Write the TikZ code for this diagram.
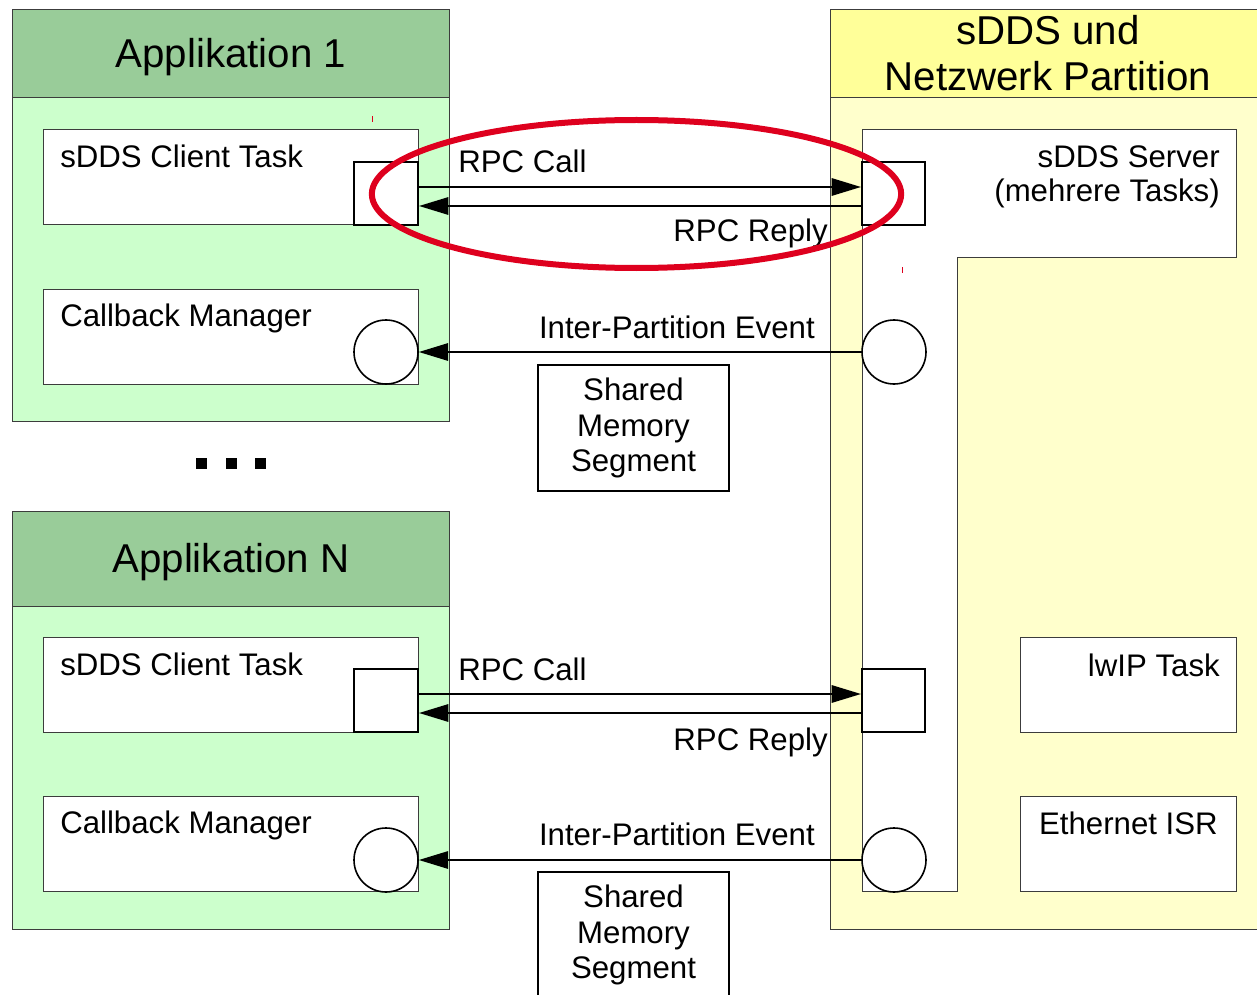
\documentclass[tikz,border=0pt]{standalone}
\usepackage{fontspec}
\setmainfont{Liberation Sans}
\usetikzlibrary{arrows.meta,fit}
\definecolor{appHead}{RGB}{153,204,153}
\definecolor{appBody}{RGB}{204,255,204}
\definecolor{srvHead}{RGB}{255,255,153}
\definecolor{srvBody}{RGB}{255,255,204}
\definecolor{frame}{RGB}{60,60,60}
\definecolor{hilite}{RGB}{222,0,30}
\tikzset{
  panel/.style={draw=frame,line width=0.75pt},
  taskbox/.style={draw=frame,fill=white,line width=0.75pt,inner sep=0pt},
  port/.style={draw=black,fill=white,line width=1.5pt,inner sep=0pt},
  evport/.style={circle,draw=black,fill=white,line width=1.2pt,inner sep=0pt,minimum size=48pt},
  smbox/.style={draw=black,fill=white,line width=1.2pt,align=center,inner sep=0pt,
    minimum width=143.25pt,minimum height=94.5pt,font=\bodyfont,execute at begin node=\setlength{\baselineskip}{26.4pt}},
  arr/.style={line width=1.5pt,-{Triangle[length=22pt,width=13pt]}},
  lbl/.style={font=\bodyfont,inner sep=0pt},
  ttl/.style={font=\titlefont,inner sep=0pt},
}
\newcommand{\bodyfont}{\fontsize{23.4}{26.4}\selectfont}
\newcommand{\titlefont}{\fontsize{30.2}{34.5}\selectfont}
\begin{document}
\begin{tikzpicture}[x=0.75pt,y=-0.75pt]
\clip (0,0) rectangle (1257,995);
\fill[white] (0,0) rectangle (1257,995);

% ---- application partitions ----
\foreach \top/\hb/\bot in {10/98/421, 511/606/929}{
  \fill[appBody] (12,\top) rectangle (449,\bot);
  \fill[appHead] (12,\top) rectangle (449,\hb);
  \draw[panel] (12,\top) rectangle (449,\bot);
  \draw[panel] (12,\hb) -- (449,\hb);
}
\node[ttl,anchor=base] (app1) at (231,68) {Applikation 1};
\node[ttl,anchor=base] (appN) at (231,572) {Applikation N};

% ---- sDDS / network partition ----
\fill[srvBody] (830,10) rectangle (1262,929);
\fill[srvHead] (830,10) rectangle (1262,98);
\draw[panel] (830,10) rectangle (1262,929);
\draw[panel] (830,98) -- (1262,98);
\node[ttl,anchor=base] (srvT1) at (1048,45) {sDDS und};
\node[ttl,anchor=base] (srvT2) at (1048,91) {Netzwerk Partition};

% L-shaped server task area
\draw[panel,fill=white] (862,130) -- (1236,130) -- (1236,257) -- (957,257)
  -- (957,891) -- (862,891) -- cycle;
\node[lbl,anchor=base east] (srvL1) at (1220,168) {sDDS Server};
\node[lbl,anchor=base east] (srvL2) at (1220,202) {(mehrere Tasks)};

\node[taskbox,fit={(1020,637) (1236,732)}] (lwip) {};
\node[lbl,anchor=base east] at (1220,676) {lwIP Task};
\node[taskbox,fit={(1020,796) (1236,891)}] (eth) {};
\node[lbl,anchor=base east] at (1218,834) {Ethernet ISR};

% ---- client tasks and callback managers ----
\node[taskbox,fit={(43,130) (418,225)}] (ct1) {};
\node[lbl,anchor=base west] at (60,168) {sDDS Client Task};
\node[taskbox,fit={(43,289) (418,384)}] (cb1) {};
\node[lbl,anchor=base west] at (60,326) {Callback Manager};
\node[taskbox,fit={(43,637) (418,732)}] (ctN) {};
\node[lbl,anchor=base west] at (60,675) {sDDS Client Task};
\node[taskbox,fit={(43,796) (418,891)}] (cbN) {};
\node[lbl,anchor=base west] at (60,833) {Callback Manager};

% ports
\node[port,fit={(354,162) (418,225)}] (cp1) {};
\node[port,fit={(862,162) (925,225)}] (sp1) {};
\node[port,fit={(354,669) (418,732)}] (cpN) {};
\node[port,fit={(862,669) (925,732)}] (spN) {};
\node[evport] (ce1) at (386,352) {};
\node[evport] (se1) at (894,352) {};
\node[evport] (ceN) at (386,860) {};
\node[evport] (seN) at (894,860) {};

% ---- connectors ----
\coordinate (call1) at (640,187);
\coordinate (rep1) at (640,206);
\coordinate (callN) at (640,694);
\coordinate (repN) at (640,713);
\draw[arr] (cp1.east |- call1) -- (sp1.west |- call1);
\draw[arr] (sp1.west |- rep1) -- (cp1.east |- rep1);
\draw[arr] (cpN.east |- callN) -- (spN.west |- callN);
\draw[arr] (spN.west |- repN) -- (cpN.east |- repN);
\draw[arr] (se1.west) -- (ce1.east);
\draw[arr] (seN.west) -- (ceN.east);

\node[lbl,anchor=base west] at (458,173) {RPC Call};
\node[lbl,anchor=base east] at (828,242) {RPC Reply};
\node[lbl,anchor=base east] at (815,338) {Inter-Partition Event};
\node[lbl,anchor=base west] at (458,680) {RPC Call};
\node[lbl,anchor=base east] at (828,750) {RPC Reply};
\node[lbl,anchor=base east] at (815,845) {Inter-Partition Event};

% shared memory segments
\node[smbox] (sm1) at (633.5,428) {Shared\\Memory\\Segment};
\node[smbox] (smN) at (633.5,935) {Shared\\Memory\\Segment};

% ellipsis between the applications
\foreach \x in {196,226,255}
  \fill[black] (\x,458) rectangle ++(11,11);

% red highlight around the first RPC channel
\draw[hilite,line width=4.5pt] (636.5,194) ellipse [x radius=198.5pt, y radius=55.5pt];
\draw[hilite,line width=0.6pt] (372,116) -- (372,122);
\draw[hilite,line width=0.6pt] (902,267) -- (902,273);
\end{tikzpicture}
\end{document}
